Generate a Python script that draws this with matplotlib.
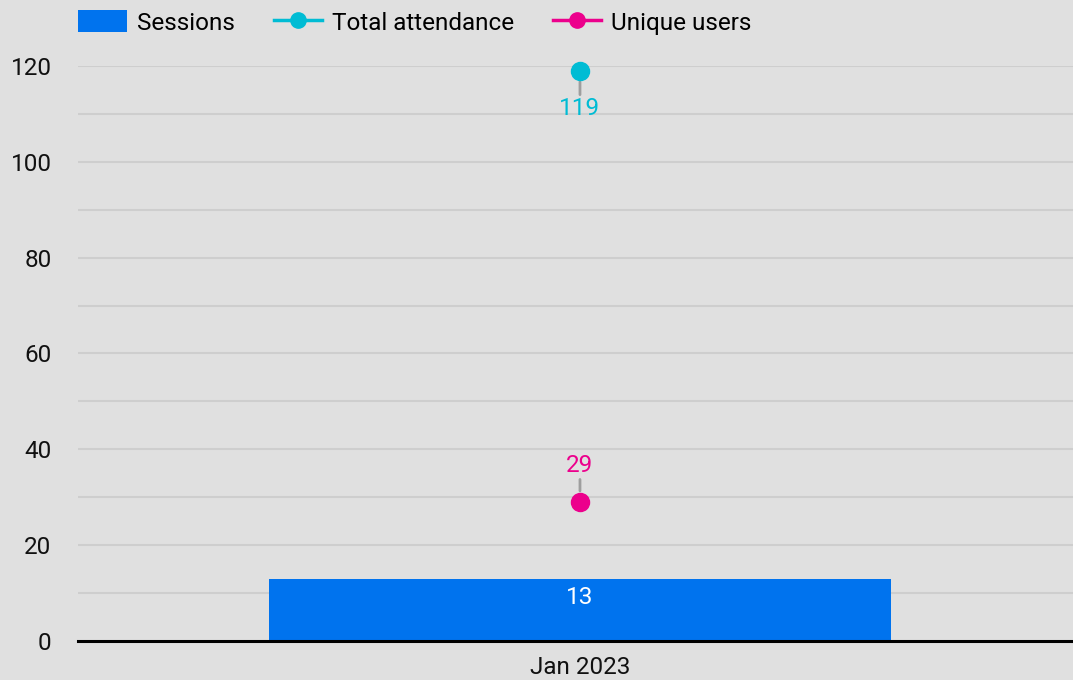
import matplotlib.pyplot as plt
from matplotlib.lines import Line2D
from matplotlib.patches import Patch

plt.rcParams['font.family'] = ['Roboto', 'DejaVu Sans']

# Data
months = ['Jan 2023']
sessions = [13]
total_attendance = [119]
unique_users = [29]
y_ticks = [0, 20, 40, 60, 80, 100, 120]

bg = '#e0e0e0'
c_bar = '#0073ee'
c_total = '#00bcd4'
c_unique = '#ec008c'
fs = 17.5

fig = plt.figure(figsize=(10.73, 6.80), dpi=100, facecolor=bg)
ax = fig.add_axes([0.0727, 0.0574, 0.9273, 0.8456], facecolor=bg)

x = list(range(len(months)))

# gridlines every 10
for v in range(10, 121, 10):
    ax.axhline(v, color='#cecece', linewidth=1.5, zorder=0)

ax.bar(x, sessions, width=0.626, color=c_bar, zorder=2)
ax.plot(x, total_attendance, 'o', color=c_total, markersize=13, zorder=4, clip_on=False)
ax.plot(x, unique_users, 'o', color=c_unique, markersize=13, zorder=4, clip_on=False)

# data labels
for xi, v in zip(x, sessions):
    ax.annotate(str(v), (xi, v), xytext=(0, -13.5), textcoords='offset points',
                ha='center', va='center', color='white', fontsize=fs)
for xi, v in zip(x, total_attendance):
    ax.annotate(str(v), (xi, v), xytext=(0, -27.5), textcoords='offset points',
                ha='center', va='center', color=c_total, fontsize=fs,
                arrowprops=dict(arrowstyle='-', color='#9e9e9e', lw=2,
                                shrinkA=0, shrinkB=8))
for xi, v in zip(x, unique_users):
    ax.annotate(str(v), (xi, v), xytext=(0, 26.5), textcoords='offset points',
                ha='center', va='center', color=c_unique, fontsize=fs,
                arrowprops=dict(arrowstyle='-', color='#9e9e9e', lw=2,
                                shrinkA=0, shrinkB=8))

ax.set_xlim(-0.5045, 0.4955)
ax.set_ylim(0, 120)
ax.set_yticks(y_ticks)
ax.set_yticklabels([str(t) for t in y_ticks])
ax.set_xticks(x)
ax.set_xticklabels(months)
ax.tick_params(axis='both', length=0, labelsize=fs, colors='#111111')
ax.tick_params(axis='y', pad=19)
ax.tick_params(axis='x', pad=11)
for s in ['top', 'right', 'left']:
    ax.spines[s].set_visible(False)
ax.spines['bottom'].set_color('black')
ax.spines['bottom'].set_linewidth(2.2)
ax.spines['bottom'].set_zorder(5)

handles = [
    Patch(facecolor=c_bar, edgecolor='none', label='Sessions'),
    Line2D([0], [0], color=c_total, lw=2.5, marker='o', markersize=11, label='Total attendance'),
    Line2D([0], [0], color=c_unique, lw=2.5, marker='o', markersize=11, label='Unique users'),
]
fig.legend(handles=handles, loc='upper left', bbox_to_anchor=(0.0527, 1.017), ncol=3,
           frameon=False, fontsize=fs, handlelength=2.0, handleheight=1.0,
           handletextpad=0.4, columnspacing=1.6)

fig.savefig('out.png', dpi=100, facecolor=bg)
